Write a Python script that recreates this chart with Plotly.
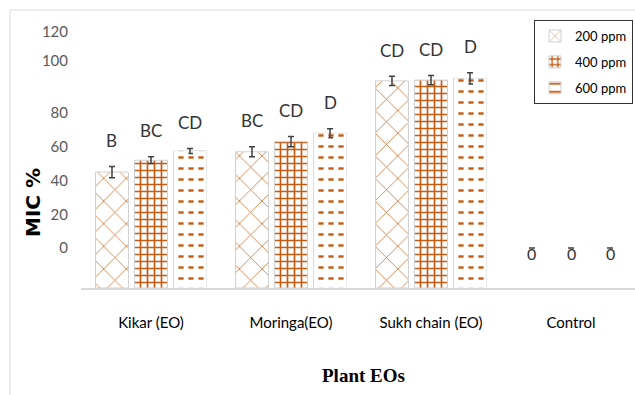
import plotly.graph_objects as go

# ---- data -------------------------------------------------------------
CATEGORIES = ["Kikar (EO)", "Moringa(EO)", "Sukh chain (EO)", "Control"]
SERIES = ["200 ppm", "400 ppm", "600 ppm"]

MIC_200 = [45.0, 57.0, 99.0, 0.0]
MIC_400 = [52.0, 63.0, 99.5, 0.0]
MIC_600 = [57.5, 68.0, 100.5, 0.0]

ERR_200 = [3.3, 3.0, 2.7, None]
ERR_400 = [2.0, 3.0, 2.7, None]
ERR_600 = [1.5, 2.7, 3.3, None]

# significance letters (None -> the value itself is printed)
LETTERS_200 = ["B", "BC", "CD", None]
LETTERS_400 = ["BC", "CD", "CD", None]
LETTERS_600 = ["CD", "D", "D", None]

TICK_LABELS = ["0", "20", "40", "60", "80", "100", "120"]

# ---- layout constants -------------------------------------------------
W, H = 635, 395
ML, MR, MT, MB = 81, 0, 20, 107
FLOOR = -23.7            # level the category axis line sits at
Y_TOP = 135.1
TICK_POS = [0, 20, 40, 60, 80, 110.8, 128]
BARGAP, GROUPGAP = 0.164, 0.154
SLOT = (1 - BARGAP) / 3

ORANGE = "#C55A11"
ORANGE_LIGHT = "#CF7430"
EDGE = "#d0d0d0"
SANS = "Lato, Liberation Sans, sans-serif"

plot_w = W - ML - MR
plot_h = H - MT - MB


def px_x(px):
    return (px - ML) / plot_w


def px_y(px):
    return (H - MB - px) / plot_h


def bases(values):
    return [FLOOR if v > 0 else 0 for v in values]


def lengths(values):
    return [v - b for v, b in zip(values, bases(values))]


def edge_widths(values):
    return [1 if v > 0 else 0 for v in values]


fig = go.Figure()

styles = [
    dict(shape="x", fgcolor=ORANGE_LIGHT, size=16, solidity=0.1),
    dict(shape="+", fgcolor=ORANGE, size=7, solidity=0.42),
    dict(shape="-", fgcolor=ORANGE, size=11, solidity=0.22),
]
series_vals = [MIC_200, MIC_400, MIC_600]
series_err = [ERR_200, ERR_400, ERR_600]
series_letters = [LETTERS_200, LETTERS_400, LETTERS_600]
groups = ["a", "b", "c"]

for name, vals, err, st, grp in zip(SERIES, series_vals, series_err, styles, groups):
    fig.add_trace(go.Bar(
        name=name,
        x=CATEGORIES,
        y=lengths(vals),
        base=bases(vals),
        offsetgroup=grp,
        legendgroup=grp,
        marker=dict(
            color="white",
            line=dict(color=EDGE, width=edge_widths(vals)),
            pattern=dict(shape=st["shape"], fgcolor=st["fgcolor"], bgcolor="white",
                         fgopacity=1, size=st["size"], solidity=st["solidity"],
                         fillmode="overlay"),
        ),
        error_y=dict(type="data", array=err, color="#404040", thickness=1.5, width=3),
    ))

# white vertical breaks turn the 600 ppm lines into short dashes
fig.add_trace(go.Bar(
    x=CATEGORIES,
    y=lengths(MIC_600),
    base=bases(MIC_600),
    offsetgroup="c",
    showlegend=False,
    hoverinfo="skip",
    marker=dict(
        color="rgba(0,0,0,0)",
        line=dict(width=0),
        pattern=dict(shape="|", fgcolor="white", bgcolor="rgba(0,0,0,0)", fgopacity=1,
                     size=10, solidity=0.48, fillmode="overlay"),
    ),
))

# letters above each bar
annotations = []
for si, (vals, err, letters) in enumerate(zip(series_vals, series_err, series_letters)):
    for ci, (v, e, t) in enumerate(zip(vals, err, letters)):
        xpos = ci + (si - 1) * SLOT
        if t is None:
            annotations.append(dict(x=xpos, y=v, text=f"{v:g}", showarrow=False,
                                    yanchor="middle", yshift=-5,
                                    font=dict(family=SANS, size=16, color="#333333")))
        else:
            annotations.append(dict(x=xpos, y=v + (e or 0), text=t, showarrow=False,
                                    yanchor="middle", yshift=26,
                                    font=dict(family=SANS, size=17, color="#333333")))

annotations.append(dict(xref="paper", yref="paper", x=px_x(33), y=px_y(203),
                        xanchor="center", yanchor="middle",
                        text="<b>MIC %</b>", textangle=-90, showarrow=False,
                        font=dict(family="DejaVu Sans, sans-serif", size=20, color="black")))
annotations.append(dict(xref="paper", yref="paper", x=px_x(363), y=px_y(375),
                        xanchor="center", yanchor="middle",
                        text="<b>Plant EOs</b>", showarrow=False,
                        font=dict(family="Liberation Serif, serif", size=19, color="black")))

fig.update_layout(
    width=W, height=H,
    margin=dict(l=ML, r=MR, t=MT, b=MB),
    paper_bgcolor="white", plot_bgcolor="white",
    barmode="group", bargap=BARGAP, bargroupgap=GROUPGAP,
    annotations=annotations,
    shapes=[dict(type="rect", xref="paper", yref="paper",
                 x0=px_x(10), y0=px_y(10), x1=px_x(W + 20), y1=px_y(H + 20),
                 line=dict(color="#d9d9d9", width=1), fillcolor="rgba(0,0,0,0)",
                 layer="below")],
    legend=dict(x=px_x(633), xanchor="right", y=1, yanchor="top",
                bgcolor="white", bordercolor="#333333", borderwidth=1,
                font=dict(family=SANS, size=13, color="black"),
                itemwidth=30, tracegroupgap=6),
    xaxis=dict(range=[-0.5, -0.5 + plot_w / 140], showgrid=False, zeroline=False,
               showline=True, linecolor="#d9d9d9", linewidth=1.5, ticks="",
               ticklabelstandoff=20,
               tickfont=dict(family=SANS, size=15, color="black")),
    yaxis=dict(range=[FLOOR, Y_TOP], showgrid=False, zeroline=False, showline=False,
               tickvals=TICK_POS, ticktext=TICK_LABELS, ticks="",
               ticklabelstandoff=12,
               tickfont=dict(family=SANS, size=15, color="#595959")),
    showlegend=True,
)

fig.write_html("out.html")
